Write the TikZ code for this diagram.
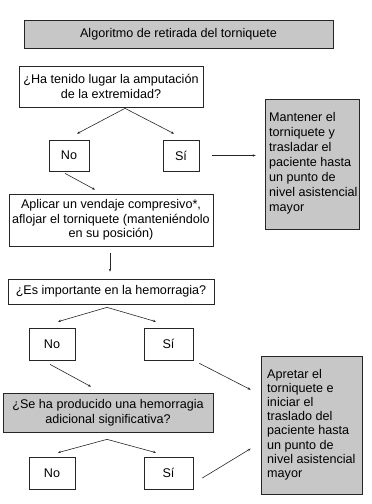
\documentclass[tikz,border=0pt]{standalone}
\usepackage{fontspec}
\setmainfont{Liberation Sans}
\usetikzlibrary{calc,arrows.meta}
\begin{document}
\begin{tikzpicture}[x=1pt,y=-1pt,
  box/.style={draw=black!85, line width=0.7pt, inner sep=0pt, align=center,
    font=\fontsize{12.6}{14.5}\selectfont},
  grey/.style={fill=black!22},
  conn/.style={draw=black!85, line width=0.6pt, -{Stealth[length=3pt,width=2.4pt]}},
  txt/.style={inner sep=0pt, align=left, anchor=north west}]
\useasboundingbox (0,0) rectangle (372,504);
% nodes
\node[box, grey, minimum width=309pt, minimum height=28pt] (title) at (178.5,34) {Algoritmo de retirada del torniquete};
\node[box, minimum width=184pt, minimum height=41pt] (q1) at (111,86.5) {¿Ha tenido lugar la amputación\\de la extremidad?};
\node[box, minimum width=40pt, minimum height=31pt] (no1) at (69,155.5) {No};
\node[box, minimum width=36pt, minimum height=31pt] (si1) at (181,155.5) {Sí};
\node[box, grey, minimum width=94pt, minimum height=130pt] (r1) at (312,164) {};
\node[txt, font=\fontsize{12.6}{15}\selectfont] (r1t) at (269,111.8) {Mantener el\\torniquete y\\trasladar el\\paciente hasta\\un punto de\\nivel asistencial\\mayor};
\node[box, minimum width=204pt, minimum height=52pt] (ap) at (111,220) {Aplicar un vendaje compresivo*,\\aflojar el torniquete (manteniéndolo\\en su posición)};
\node[box, minimum width=206pt, minimum height=25pt] (es) at (111,291.5) {¿Es importante en la hemorragia?};
\node[box, minimum width=46pt, minimum height=32pt] (no2) at (52,344) {No};
\node[box, minimum width=49pt, minimum height=32pt] (si2) at (168.5,344) {Sí};
\node[box, grey, minimum width=210pt, minimum height=39pt] (se) at (108,412.5) {¿Se ha producido una hemorragia\\adicional significativa?};
\node[box, minimum width=46pt, minimum height=32pt] (no3) at (52,473) {No};
\node[box, minimum width=49pt, minimum height=32pt] (si3) at (168.5,473) {Sí};
\node[box, grey, minimum width=101pt, minimum height=138pt] (r2) at (311.5,425) {};
\node[txt, font=\fontsize{12.6}{14.2}\selectfont] (r2t) at (267,368.8) {Apretar el\\torniquete e\\iniciar el\\traslado del\\paciente hasta\\un punto de\\nivel asistencial\\mayor};
% connectors
\draw[conn] ($(q1.south)+(14,1)$) -- ($(no1.north)+(8,-6)$);
\draw[conn] ($(q1.south)+(14,1)$) -- ($(si1.north)+(-7,-6)$);
\draw[conn] ($(si1.east)+(13,0)$) -- ($(r1.west|-si1.east)+(-9,0)$);
\draw[conn] ($(no1.south)+(-4,2)$) -- ($(ap.north)+(-16,-4)$);
\draw[conn] ($(ap.south)+(-1,7)$) -- ($(es.north)+(-1,-7)$);
\draw[conn] ($(es.south)+(-4,3)$) -- ($(no2.north)+(6,-6)$);
\draw[conn] ($(es.south)+(-4,3)$) -- ($(si2.north)+(-12.5,-6)$);
\draw[conn] ($(no2.south)+(-2,4)$) -- ($(se.north)+(-17,-6)$);
\draw[conn] ($(si2.south east)+(6,3)$) -- ($(r2.north west)+(-10,34)$);
\draw[conn] ($(se.south)+(-1,7)$) -- ($(no3.north)+(6,-4)$);
\draw[conn] ($(se.south)+(-1,7)$) -- ($(si3.north)+(-12.5,-4)$);
\draw[conn] ($(si3.east)+(9,5)$) -- ($(r2.north west)+(-10,93)$);
\end{tikzpicture}
\end{document}
